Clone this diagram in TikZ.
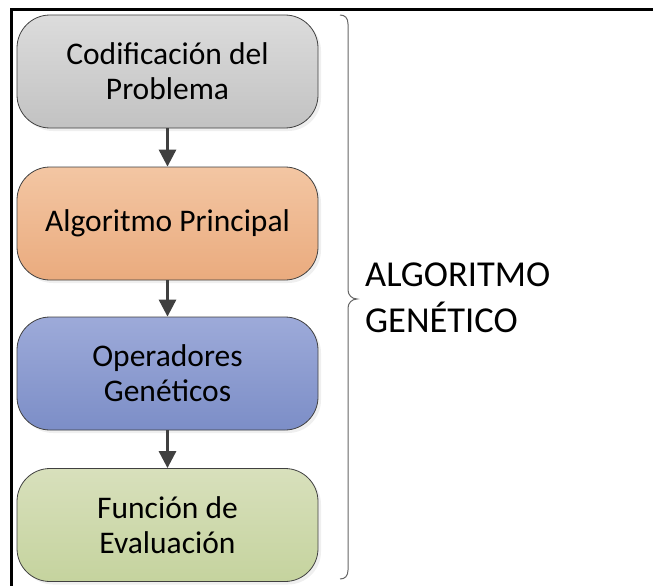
\documentclass[tikz,border=0pt]{standalone}
\usepackage{fontspec}
\setmainfont{Carlito}
\usetikzlibrary{arrows.meta,shadows}
\definecolor{grisArriba}{HTML}{DCDCDC}
\definecolor{grisAbajo}{HTML}{C2C2C2}
\definecolor{naranjaArriba}{HTML}{F3C6A3}
\definecolor{naranjaAbajo}{HTML}{EAAB7E}
\definecolor{azulArriba}{HTML}{9DAAD9}
\definecolor{azulAbajo}{HTML}{7C8EC7}
\definecolor{verdeArriba}{HTML}{D8E0BC}
\definecolor{verdeAbajo}{HTML}{C5D39E}
\definecolor{borde}{HTML}{404040}
\newcommand{\fuentecaja}{\fontsize{31.5}{35}\selectfont}
\newcommand{\fuentetitulo}{\fontsize{36.5}{46}\selectfont}

\begin{document}
\begin{tikzpicture}[x=1pt,y=-1pt,
	paso/.style={draw=borde, line width=0.8pt, rounded corners=33pt,
		minimum width=301pt, minimum height=113pt, align=center, font=\fuentecaja,
		drop shadow={shadow xshift=3pt, shadow yshift=-3pt, fill=black!12}},
	flecha/.style={draw=borde, line width=3pt, -{Triangle[width=17pt,length=17pt]}},
	llave/.style={draw=black!60, line width=1pt}]
	\useasboundingbox (0,0) rectangle (653,586);

	% marco
	\draw[line width=3pt] (11.5,586) -- (11.5,10) -- (653,10);

	% pasos
	\node[paso, top color=grisArriba, bottom color=grisAbajo] (cod) at (167.5,71.5) {Codificación del\\Problema};
	\node[paso, top color=naranjaArriba, bottom color=naranjaAbajo] (alg) at (167.5,223.5) {Algoritmo Principal};
	\node[paso, top color=azulArriba, bottom color=azulAbajo] (ope) at (167.5,373.5) {Operadores\\Genéticos};
	\node[paso, top color=verdeArriba, bottom color=verdeAbajo] (fun) at (167.5,525) {Función de\\Evaluación};

	\draw[flecha] (cod.south) -- (alg.north);
	\draw[flecha] (alg.south) -- (ope.north);
	\draw[flecha] (ope.south) -- (fun.north);

	% llave
	\coordinate (llaveA) at (340,15);
	\coordinate (llaveP) at (357,299);
	\coordinate (llaveB) at (340,579);
	\draw[llave] (llaveA) .. controls (345,15) and (348,18) .. (348,24) -- (348,290)
		.. controls (348,295) and (352,299) .. (llaveP)
		.. controls (352,299) and (348,303) .. (348,308) -- (348,570)
		.. controls (348,576) and (345,579) .. (llaveB);

	\node[anchor=north west, align=left, inner sep=0pt, font=\fuentetitulo] (titulo) at (365,263) {ALGORITMO\\GENÉTICO};
\end{tikzpicture}
\end{document}
